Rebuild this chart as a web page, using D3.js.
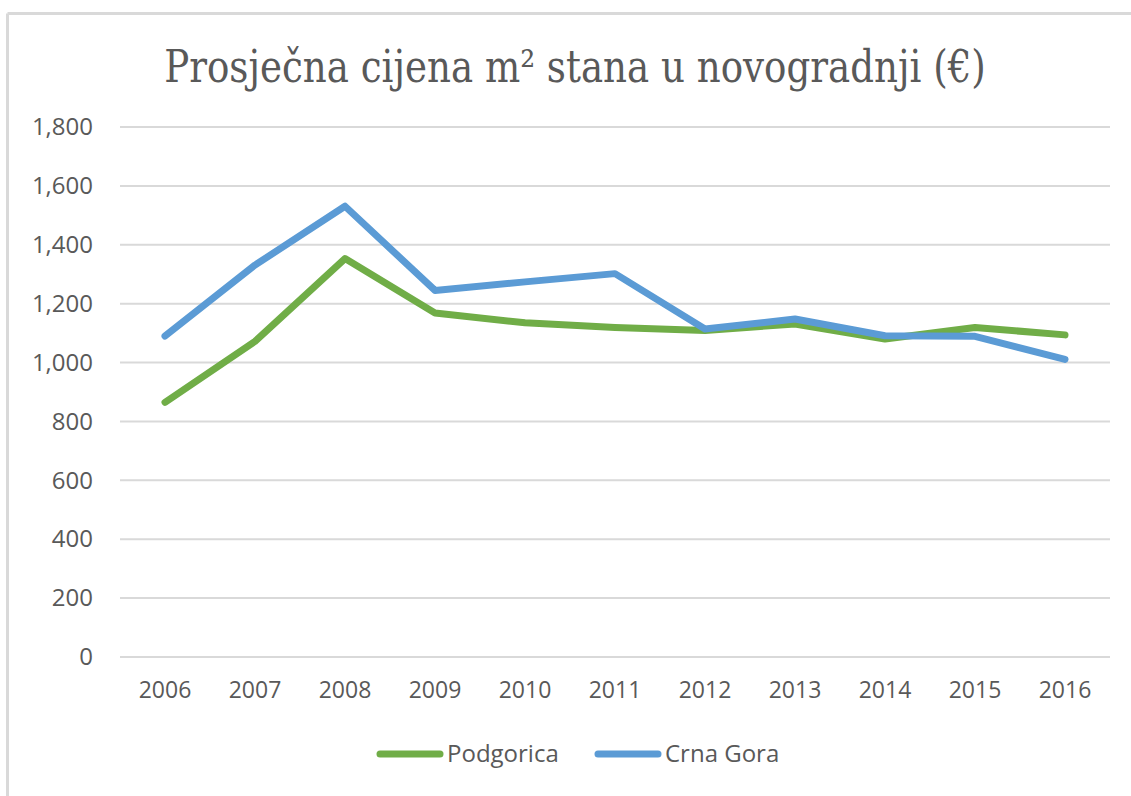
<!DOCTYPE html>
<html>
<head>
<meta charset="utf-8">
<script src="https://cdn.jsdelivr.net/npm/d3@7"></script>
<style>
  body { margin: 0; background: #fff; }
  text { fill: #595959; }
</style>
</head>
<body>
<svg id="chart" width="1131" height="796"></svg>
<script>
// data
var years = ["2006","2007","2008","2009","2010","2011","2012","2013","2014","2015","2016"];
var podgorica = [865, 1072, 1353, 1168, 1135, 1119, 1109, 1131, 1080, 1119, 1094];
var crnaGora  = [1090, 1331, 1531, 1245, 1274, 1302, 1114, 1148, 1091, 1089, 1011];
var yTicks = [0, 200, 400, 600, 800, 1000, 1200, 1400, 1600, 1800];
var seriesNames = ["Podgorica", "Crna Gora"];
var colors = ["#70AD47", "#5B9BD5"];

var svg = d3.select("#chart");

// frame (only left + top edges visible in the picture)
svg.append("line").attr("x1", 7.5).attr("x2", 1131).attr("y1", 13.5).attr("y2", 13.5)
   .attr("stroke", "#D9D9D9").attr("stroke-width", 3);
svg.append("line").attr("x1", 7.5).attr("x2", 7.5).attr("y1", 13.5).attr("y2", 796)
   .attr("stroke", "#D9D9D9").attr("stroke-width", 3);

var margin = {top: 127, left: 120, right: 21, bottom: 139},
    width = 1131 - margin.left - margin.right,
    height = 796 - margin.top - margin.bottom;

var g = svg.append("g").attr("transform", "translate(" + margin.left + "," + margin.top + ")");

var x = d3.scaleBand().domain(years).range([0, width]).padding(0);
var y = d3.scaleLinear().domain([0, 1800]).range([height, 0]);

// gridlines
g.append("g").attr("class", "grid")
  .selectAll("line").data(yTicks).enter().append("line")
  .attr("x1", 0).attr("x2", width)
  .attr("y1", function(d) { return y(d); }).attr("y2", function(d) { return y(d); })
  .attr("stroke", "#D9D9D9").attr("stroke-width", 2);

// y axis labels
var yAx = g.append("g")
  .call(d3.axisLeft(y).tickValues(yTicks).tickFormat(d3.format(",")).tickSize(0).tickPadding(27));
yAx.select(".domain").remove();
yAx.selectAll("text").attr("font-family", "'Open Sans', sans-serif").attr("font-size", "24px").attr("fill", "#595959");

// x axis labels
var xAx = g.append("g").attr("transform", "translate(0," + height + ")")
  .call(d3.axisBottom(x).tickSize(0).tickPadding(25));
xAx.select(".domain").remove();
xAx.selectAll("text").attr("font-family", "'Open Sans', sans-serif").attr("font-size", "23px").attr("fill", "#595959");

// lines
var line = d3.line()
  .x(function(d, i) { return x(years[i]) + x.bandwidth() / 2; })
  .y(function(d) { return y(d); });

[podgorica, crnaGora].forEach(function(s, i) {
  g.append("path").datum(s)
    .attr("fill", "none")
    .attr("stroke", colors[i])
    .attr("stroke-width", 7)
    .attr("stroke-linejoin", "round")
    .attr("stroke-linecap", "round")
    .attr("d", line);
});

// title - condensed serif, squeezed to the width seen in the picture
var titleG = svg.append("g");
var title = titleG.append("text")
  .attr("x", 0).attr("y", 0)
  .attr("text-anchor", "middle")
  .attr("font-family", "'DejaVu Serif', serif")
  .attr("font-size", "45px")
  .attr("fill", "#595959")
  .text("Prosječna cijena m² stana u novogradnji (€)");
var sx = 822 / title.node().getComputedTextLength();
titleG.attr("transform", "translate(575,82) scale(" + sx + ",1)");

// legend
var legX = [377, 595];
var legend = svg.selectAll(".legend").data(seriesNames).enter().append("g")
  .attr("class", "legend")
  .attr("transform", function(d, i) { return "translate(" + legX[i] + ",754)"; });
legend.append("line")
  .attr("x1", 3).attr("x2", 63).attr("y1", 0).attr("y2", 0)
  .attr("stroke", function(d, i) { return colors[i]; })
  .attr("stroke-width", 7).attr("stroke-linecap", "round");
legend.append("text")
  .attr("x", 70).attr("y", 0).attr("dy", "0.35em")
  .attr("font-family", "'Open Sans', sans-serif").attr("font-size", "24px")
  .attr("fill", "#595959")
  .text(function(d) { return d; });
</script>
</body>
</html>
